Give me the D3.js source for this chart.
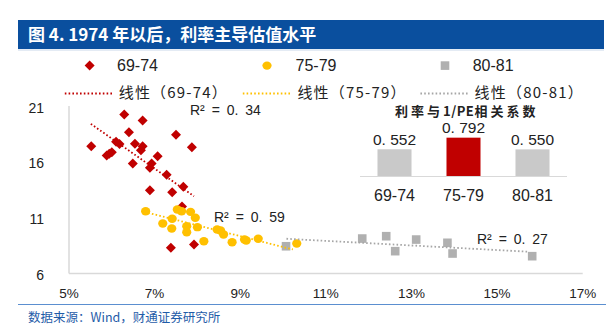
<!DOCTYPE html>
<html><head><meta charset="utf-8">
<script src="https://cdn.jsdelivr.net/npm/d3@7"></script>
<style>
html,body{margin:0;padding:0;background:#fff;}
text{font-family:"Liberation Sans","Noto Sans CJK SC",sans-serif;}
.cjk{font-family:"Noto Sans CJK SC","Liberation Sans",sans-serif;}
</style></head>
<body>
<svg id="c" width="613" height="333"></svg>
<script>
// ---- data ----
const xTicks = [5, 7, 9, 11, 13, 15, 17];
const yTicks = [6, 11, 16, 21];
const seriesNames = ["69-74", "75-79", "80-81"];
const red_x = [6.29,6.72,6.40,7.50,5.52,6.10,6.18,6.54,6.72,6.68,7.87,5.88,6.00,5.94,7.07,6.49,6.93,6.89,7.28,6.89,7.41,7.67,7.64,7.38,7.92];
const red_y = [20.23,19.70,18.65,18.42,17.40,17.80,17.60,17.61,17.40,17.04,17.31,16.56,16.86,16.72,16.50,15.85,15.85,15.46,14.84,13.46,13.28,13.76,12.0,8.30,8.60];
const yel_x = [6.79,7.53,7.63,7.84,7.95,7.41,7.19,7.40,7.75,8.00,7.75,8.46,8.54,8.61,8.15,8.81,9.10,9.14,9.42,10.32];
const yel_y = [11.58,11.73,11.58,11.52,10.99,10.90,10.48,10.03,10.23,10.15,9.70,9.94,9.85,9.49,8.89,8.80,9.04,8.95,9.11,8.69];
const gry_x = [10.07,11.85,12.41,12.62,13.11,13.84,13.96,15.82];
const gry_y = [8.44,9.13,9.34,8.00,9.04,8.75,7.79,7.55];
const trend_red = [[5.51,19.40],[7.92,12.92]];
const trend_yel = [[6.85,11.43],[10.23,8.15]];
const trend_gry = [[10.08,9.11],[15.73,7.95]];
const r2Values = ["0.34", "0.59", "0.27"];
const corrCats = ["69-74", "75-79", "80-81"];
const corrVals = [0.552, 0.792, 0.550];

const RED = "#c00000", YEL = "#ffc000", GRY = "#b0b0b0";
const NB = "\u00a0";

const svg = d3.select("#c");

// title band
svg.append("rect").attr("x",18).attr("y",20).attr("width",586).attr("height",29).attr("fill","#0a4f9e");
svg.append("line").attr("x1",18).attr("x2",604).attr("y1",50).attr("y2",50).attr("stroke","#c9d8ea").attr("stroke-width",1);
svg.append("text").attr("class","cjk").attr("x",28).attr("y",35).attr("dy","0.36em")
  .attr("fill","#fff").attr("font-size",17).attr("font-weight","bold")
  .text("图 4. 1974 年以后，利率主导估值水平");

// scales
const x = d3.scaleLinear().domain([5,17]).range([69,582.7]);
const y = d3.scaleLinear().domain([6,21]).range([273.5,106]);

// axes lines
svg.append("line").attr("x1",x(5)).attr("x2",x(5)).attr("y1",y(21)).attr("y2",y(6)).attr("stroke","#d9d9d9").attr("stroke-width",1.5);
svg.append("line").attr("x1",x(5)).attr("x2",x(17)).attr("y1",y(6)).attr("y2",y(6)).attr("stroke","#d9d9d9").attr("stroke-width",1.5);

// tick labels
svg.selectAll(".yt").data(yTicks).enter().append("text")
  .attr("x",44).attr("y",d=>y(d)+1.5).attr("dy","0.36em").attr("text-anchor","end")
  .attr("font-size",14).attr("fill","#222").text(d=>d);
svg.selectAll(".xt").data(xTicks).enter().append("text")
  .attr("x",d=>x(d)).attr("y",293).attr("dy","0.36em").attr("text-anchor","middle")
  .attr("font-size",13.5).attr("fill","#222").text(d=>d+"%");

// markers
const sq = d3.symbol().type(d3.symbolSquare).size(50)();
svg.append("g").selectAll("path").data(d3.range(red_x.length)).enter().append("path")
  .attr("transform",i=>`translate(${x(red_x[i])},${y(red_y[i])}) rotate(45)`)
  .attr("d",sq).attr("fill",RED);
svg.append("g").selectAll("ellipse").data(d3.range(yel_x.length)).enter().append("ellipse")
  .attr("cx",i=>x(yel_x[i])).attr("cy",i=>y(yel_y[i])).attr("rx",4.6).attr("ry",4.2).attr("fill",YEL);
svg.append("g").selectAll("rect").data(d3.range(gry_x.length)).enter().append("rect")
  .attr("x",i=>x(gry_x[i])-4.3).attr("y",i=>y(gry_y[i])-4.3).attr("width",8.6).attr("height",8.6).attr("fill",GRY);

// trendlines
const line = d3.line().x(d=>x(d[0])).y(d=>y(d[1]));
[[trend_red,RED],[trend_yel,YEL],[trend_gry,"#a6a6a6"]].forEach(([t,c])=>{
  svg.append("path").attr("d",line(t)).attr("fill","none").attr("stroke",c)
    .attr("stroke-width",1.8).attr("stroke-dasharray","1.6,2.2");
});

// R2 labels
const r2Pos = [[190,109.5],[214,216.5],[477,239]];
r2Pos.forEach((p,i)=>{
  svg.append("text").attr("x",p[0]).attr("y",p[1]).attr("dy","0.36em")
    .attr("font-size",14).attr("fill","#222").attr("word-spacing",3)
    .text("R² = " + r2Values[i].replace(".", ". "));
});

// legend
const legX = [89.6, 267, 445], legTx = [117, 295.5, 472.7];
svg.append("path").attr("transform",`translate(${legX[0]},65.6) rotate(45)`).attr("d",sq).attr("fill",RED);
svg.append("ellipse").attr("cx",legX[1]).attr("cy",65.6).attr("rx",4.6).attr("ry",4.2).attr("fill",YEL);
svg.append("rect").attr("x",legX[2]-4.3).attr("y",65.6-4.3).attr("width",8.6).attr("height",8.6).attr("fill",GRY);
seriesNames.forEach((n,i)=>{
  svg.append("text").attr("x",legTx[i]).attr("y",65.6).attr("dy","0.36em").attr("font-size",16).attr("fill","#222").text(n);
});
const legLx = [[64.8,112],[242.8,290.8],[420.4,467.6]], legLt = [118.7, 297.4, 474.6];
const legLc = [RED, YEL, "#a6a6a6"];
seriesNames.forEach((n,i)=>{
  svg.append("line").attr("x1",legLx[i][0]).attr("x2",legLx[i][1]).attr("y1",93.5).attr("y2",93.5)
    .attr("stroke",legLc[i]).attr("stroke-width",1.8).attr("stroke-dasharray","1.6,2.2");
  svg.append("text").attr("class","cjk").attr("x",legLt[i]).attr("y",92.5).attr("dy","0.36em")
    .attr("font-size",15).attr("letter-spacing",1.2).attr("fill","#222").text("线性（" + n + "）");
});

// inset bar chart
const bx = d3.scaleBand().domain(corrCats).range([360,567]).paddingInner(0.507).paddingOuter(0.2535);
const by = d3.scaleLinear().domain([0,1]).range([176,127.6]);
const tt = svg.append("text").attr("class","cjk").attr("x",466.7).attr("y",111).attr("dy","0.36em")
  .attr("text-anchor","middle").attr("font-size",13).attr("font-weight","bold").attr("fill","#222");
tt.append("tspan").attr("letter-spacing",3).text("利率与");
tt.append("tspan").attr("letter-spacing",0.5).text("1/PE");
tt.append("tspan").attr("letter-spacing",3).text("相关系数");
svg.selectAll(".bar").data(corrCats).enter().append("rect")
  .attr("x",d=>bx(d)).attr("width",bx.bandwidth())
  .attr("y",(d,i)=>by(corrVals[i])).attr("height",(d,i)=>by(0)-by(corrVals[i]))
  .attr("fill",(d,i)=>i===1?RED:"#c9c9c9");
svg.append("line").attr("x1",360).attr("x2",567).attr("y1",by(0)+0.5).attr("y2",by(0)+0.5).attr("stroke","#d9d9d9").attr("stroke-width",1.2);
svg.selectAll(".bv").data(corrCats).enter().append("text")
  .attr("x",d=>bx(d)+bx.bandwidth()/2).attr("y",(d,i)=>by(corrVals[i])-10).attr("dy","0.36em")
  .attr("text-anchor","middle").attr("font-size",15.5).attr("fill","#222")
  .text((d,i)=>corrVals[i].toFixed(3).replace(".", "." + NB));
svg.selectAll(".bc").data(corrCats).enter().append("text")
  .attr("x",d=>bx(d)+bx.bandwidth()/2).attr("y",195).attr("dy","0.36em")
  .attr("text-anchor","middle").attr("font-size",16).attr("fill","#222").text(d=>d);

// source
svg.append("line").attr("x1",18).attr("x2",606).attr("y1",304.5).attr("y2",304.5).attr("stroke","#5b8fd0").attr("stroke-width",1.2);
svg.append("text").attr("class","cjk").attr("x",28).attr("y",317.7).attr("dy","0.36em")
  .attr("font-size",12.5).attr("fill","#1f5ca8").text("数据来源：Wind，财通证券研究所");
</script>
</body></html>
